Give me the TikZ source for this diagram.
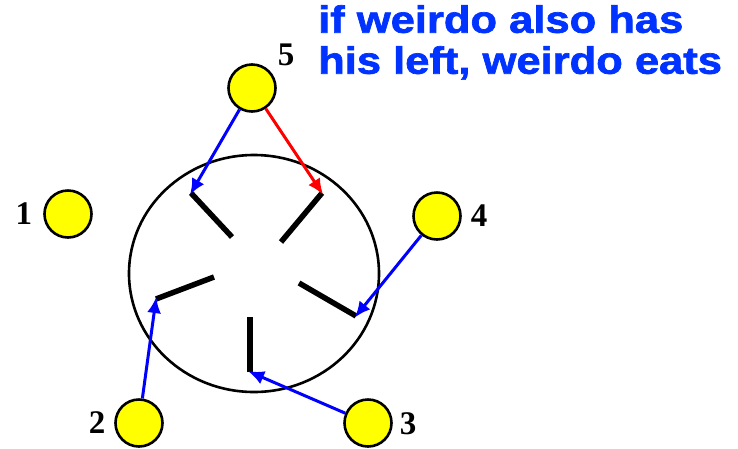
\documentclass[tikz,border=0pt]{standalone}
\usepackage{fontspec}
\setmainfont{Liberation Serif}
\newfontfamily\headfont[FakeStretch=1.145, FakeBold=1.8]{Liberation Sans}
\usetikzlibrary{arrows.meta}
\definecolor{blue}{RGB}{0,0,255}
\definecolor{red}{RGB}{255,0,0}
\definecolor{textblue}{RGB}{0,51,255}
\definecolor{yellow}{RGB}{255,255,0}

\begin{document}
\begin{tikzpicture}[x=1pt, y=-1pt,
  phil/.style={circle, draw=black, line width=2.6pt, fill=yellow,
               minimum size=47pt, inner sep=0pt},
  num/.style={font=\fontsize{33}{33}\selectfont\bfseries},
  stick/.style={line width=5.5pt},
  grab/.style={line width=3pt, -{Latex[length=16pt, width=14pt]}, shorten >=-2pt}]

\useasboundingbox (0,0) rectangle (738,448);

%---------------------------------------
% Table
%---------------------------------------
\def\Tx{254}
\def\Ty{273.5}
\draw[line width=2.6pt] (\Tx,\Ty) ellipse (125 and 118.5);

% Chopsticks (outer end, inner end)
\coordinate (c5a) at (191,193);  \coordinate (c5b) at (232,237);
\coordinate (c4a) at (322,193);  \coordinate (c4b) at (281,242);
\coordinate (c1a) at (156,299);  \coordinate (c1b) at (214,277);
\coordinate (c3a) at (356,316);  \coordinate (c3b) at (299,283);
\coordinate (c2a) at (250,372);  \coordinate (c2b) at (250,317);
\foreach \c in {c1,c2,c3,c4,c5}
  \draw[stick] (\c a) -- (\c b);

%---------------------------------------
% Philosophers
%---------------------------------------
\node[phil] (p1) at (68,214)  {};
\node[phil] (p2) at (139,423) {};
\node[phil] (p3) at (368,423) {};
\node[phil] (p4) at (437,216) {};
\node[phil] (p5) at (252,88)  {};

\node[num] (n1) at (24,214)  {1};
\node[num] (n2) at (97,423)  {2};
\node[num] (n3) at (408,424) {3};
\node[num] (n4) at (479,216) {4};
\node[num] (n5) at (286,55)  {5};

% Reaching for chopsticks
\draw[grab, blue] (p5) -- (c5a);
\draw[grab, red]  (p5) -- (c4a);
\draw[grab, blue] (p4) -- (c3a);
\draw[grab, blue] (p2) -- (c1a);
\draw[grab, blue] (p3) -- (c2a);

% Caption
\node[anchor=north west, align=left, inner sep=0pt, text=textblue,
      font=\headfont\bfseries\fontsize{38}{41}\selectfont] (note) at (318,5)
  {if weirdo also has\\his left, weirdo eats};

\end{tikzpicture}
\end{document}
